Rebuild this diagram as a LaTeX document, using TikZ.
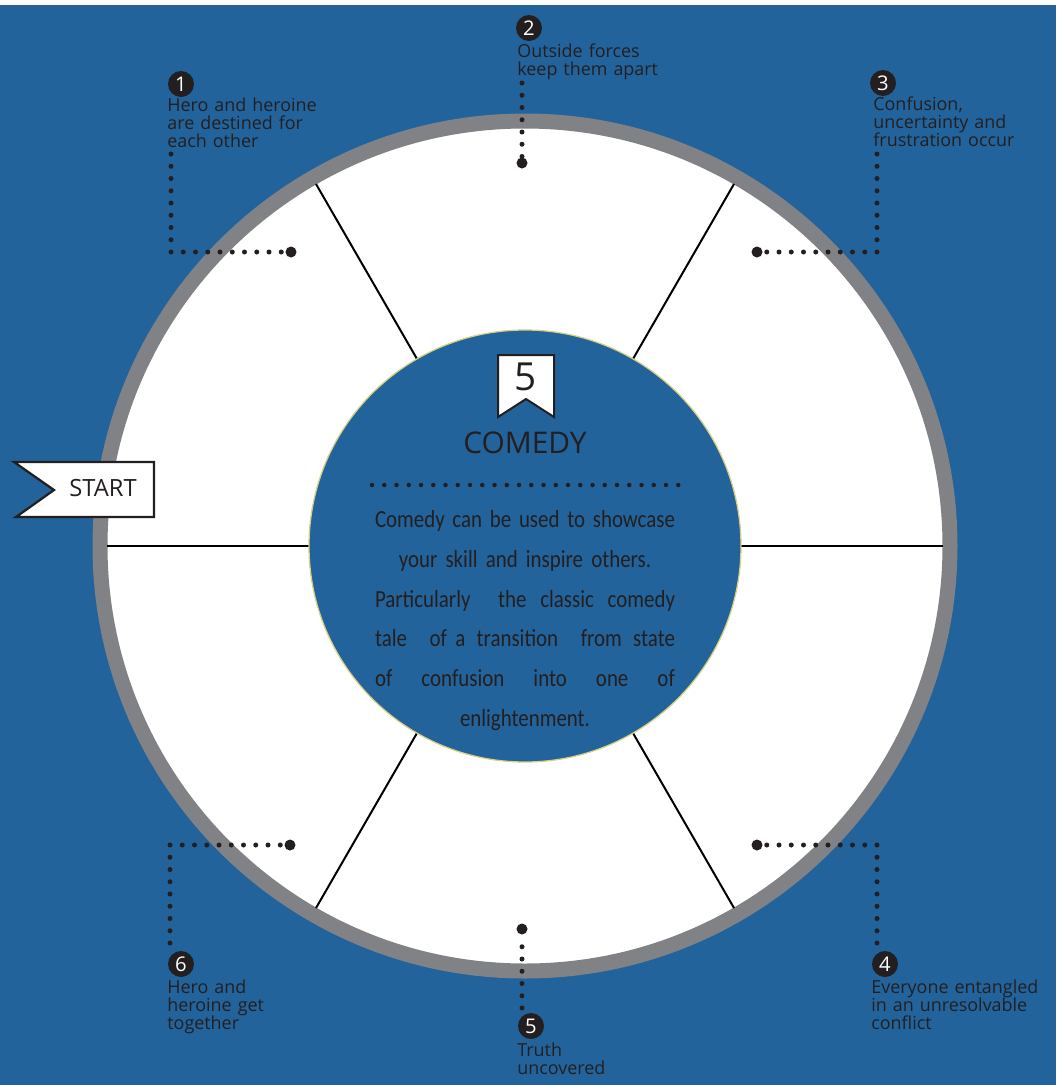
\documentclass[tikz,border=0pt]{standalone}
\usepackage{fontspec}
\setmainfont{Open Sans}
\newfontfamily\condfont[FakeStretch=0.85]{Carlito}
\usetikzlibrary{positioning}
\definecolor{bgblue}{RGB}{34,99,155}
\definecolor{ringgray}{RGB}{128,130,133}
\definecolor{inkdark}{RGB}{35,31,32}
\definecolor{rimyellow}{RGB}{215,208,130}
\newcommand{\fullline}[1]{\makebox[60mm][l]{#1}}
\tikzset{
  numdot/.style={circle, fill=inkdark, text=white, inner sep=0pt, minimum size=5.2mm, font=\fontsize{11.5}{11.5}\selectfont},
  steplabel/.style={anchor=base west, inner sep=0pt, text width=45mm, align=left, text=inkdark, font=\fontsize{10.2}{10.3}\selectfont},
  dotline/.style={draw=inkdark, line width=1mm, line cap=round, dash pattern=on 0pt off 2.45mm},
  bigdot/.style={circle, fill=inkdark, inner sep=0pt, minimum size=2.2mm},
  spoke/.style={draw=black, line width=0.4mm},
}
\begin{document}
\begin{tikzpicture}[x=0.2mm, y=-0.2mm]
    \useasboundingbox (0,0) rectangle (1057,1085);
    % Background
    \fill[white] (0,0) rectangle (1057,1085);
    \fill[bgblue] (0,5) rectangle (1056,1085);

    % Outer wheel with grey rim
    \draw[ringgray, line width=3mm, fill=white] (525,546) circle (425);
    \begin{scope}[shift={(525,546)}]
        \foreach \ang in {0,60,...,300}
            \draw[spoke] (\ang:216) -- (\ang:418);
    \end{scope}

    % Hub
    \draw[rimyellow, line width=0.25mm, fill=bgblue] (525,546) circle (216);
    \draw[inkdark, line width=0.4mm, fill=white] (498,355) -- (554,355) -- (554,417) -- (526,399) -- (498,417) -- cycle;
    \node[text=inkdark, font=\fontsize{22}{22}\selectfont] (badgenum) at (526,377) {5};
    \node[anchor=base, inner sep=0pt, text=inkdark, font=\fontsize{17}{17}\selectfont] (title) at (525,453) {COMEDY};
    \draw[dotline, line width=0.9mm] (372,485) -- (680,485);
    \node[anchor=base, inner sep=0pt, text width=60mm, align=center, text=inkdark,
          font=\condfont\fontsize{14}{22.76}\selectfont] (body) at (525,527)
        {\fullline{Comedy\hfill can\hfill be\hfill used\hfill to\hfill showcase}\\
         your skill and inspire others.\\
         \fullline{Particularly\hfill\hfill the\hfill classic\hfill comedy}\\
         \fullline{tale\hfill\hfill of a\hfill transition\hfill\hfill from\hfill state}\\
         \fullline{of\hfill confusion\hfill into\hfill one\hfill of}\\
         enlightenment.};

    % Start flag
    \draw[inkdark, line width=0.45mm, fill=white] (14,462) -- (154,462) -- (154,517) -- (16,517) -- (54,490) -- cycle;
    \node[text=inkdark, font=\fontsize{13.5}{13.5}\selectfont] (start) at (103,488) {START};

    % Step markers
    \node[numdot] (num1) at (181,84) {1};
    \node[numdot] (num2) at (529,28) {2};
    \node[numdot] (num3) at (883,83) {3};
    \node[numdot] (num4) at (885,964) {4};
    \node[numdot] (num5) at (531,1026) {5};
    \node[numdot] (num6) at (181,964) {6};

    \node[steplabel] (lab1) at (167,111) {Hero and heroine\\are destined for\\each other};
    \node[steplabel] (lab2) at (517,57) {Outside forces\\keep them apart};
    \node[steplabel] (lab3) at (873,110) {Confusion,\\uncertainty and\\frustration occur};
    \node[steplabel] (lab4) at (871,993) {Everyone entangled\\in an unresolvable\\conflict};
    \node[steplabel] (lab5) at (517,1056) {Truth\\uncovered};
    \node[steplabel] (lab6) at (167,993) {Hero and\\heroine get\\together};

    % Leaders
    \node[bigdot] (end1) at (291,252) {};
    \node[bigdot] (end2) at (522,163) {};
    \node[bigdot] (end3) at (757,252) {};
    \node[bigdot] (end4) at (757,845) {};
    \node[bigdot] (end5) at (522,929) {};
    \node[bigdot] (end6) at (290,845) {};
    \coordinate (top1) at (171,154);
    \coordinate (bend1) at (171,252);
    \coordinate (top2) at (522,83);
    \coordinate (top3) at (877,154);
    \coordinate (bend3) at (877,252);
    \coordinate (foot4) at (877,943);
    \coordinate (bend4) at (877,845);
    \coordinate (foot5) at (522,1008);
    \coordinate (foot6) at (170,943);
    \coordinate (bend6) at (170,845);
    \draw[dotline] (top1) -- (bend1) -- (end1);
    \draw[dotline] (top2) -- (end2);
    \draw[dotline] (top3) -- (bend3) -- (end3);
    \draw[dotline] (foot4) -- (bend4) -- (end4);
    \draw[dotline] (foot5) -- (end5);
    \draw[dotline] (foot6) -- (bend6) -- (end6);
\end{tikzpicture}
\end{document}
